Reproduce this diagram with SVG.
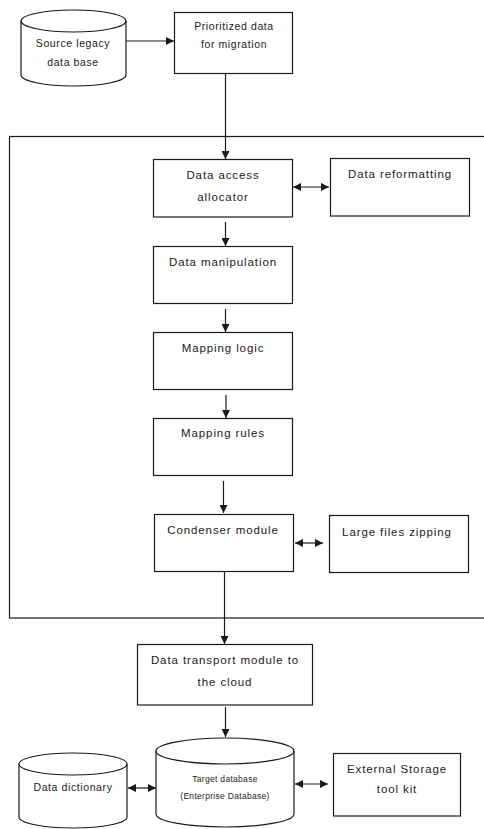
<svg xmlns="http://www.w3.org/2000/svg" width="484" height="829" viewBox="0 0 484 829">
  <style>
    .box { fill: #fff; stroke: #1a1a1a; stroke-width: 1.2; }
    .frame { fill: none; stroke: #1a1a1a; stroke-width: 1.2; }
    .edge { fill: none; stroke: #1a1a1a; stroke-width: 1.2; }
    .lbl { font-family: "Liberation Sans", Arial, sans-serif; font-size: 11.5px; letter-spacing: 0.9px; fill: #1a1a1a; text-anchor: middle; }
    .sm { font-size: 10.5px; letter-spacing: 0.6px; }
    .xs { font-size: 8.5px; letter-spacing: 0.3px; }
  </style>
  <defs>
    <marker id="arrow" viewBox="0 0 10 10" refX="10" refY="5" markerWidth="8" markerHeight="8" orient="auto-start-reverse" markerUnits="userSpaceOnUse">
      <path d="M0,0 L10,5 L0,10 Z" fill="#1a1a1a"/>
    </marker>
  </defs>

  <!-- enclosing processing frame; right side runs off the page -->
  <rect class="frame" x="9.5" y="136.5" width="480" height="481.5"/>

  <g id="source-db">
    <path class="box" d="M21,21 A52.5,11 0 0,1 126,21 L126,75 A52.5,11 0 0,1 21,75 Z"/>
    <path class="edge" d="M21,21 A52.5,11 0 0,0 126,21"/>
    <text class="lbl sm" x="73" y="47">Source legacy</text>
    <text class="lbl sm" x="73" y="66">data base</text>
  </g>

  <g id="prioritized">
    <rect class="box" x="174.5" y="12.5" width="118" height="61"/>
    <text class="lbl sm" x="234" y="30">Prioritized data</text>
    <text class="lbl sm" x="234" y="48">for migration</text>
  </g>

  <g id="access-allocator">
    <rect class="box" x="153.5" y="159.5" width="139" height="57.5"/>
    <text class="lbl" x="223" y="179">Data access</text>
    <text class="lbl" x="223" y="201">allocator</text>
  </g>

  <g id="reformatting">
    <rect class="box" x="330.5" y="158.5" width="139" height="57.5"/>
    <text class="lbl" x="400" y="178">Data reformatting</text>
  </g>

  <g id="manipulation">
    <rect class="box" x="153.5" y="246.5" width="139" height="57"/>
    <text class="lbl" x="223" y="266">Data manipulation</text>
  </g>

  <g id="mapping-logic">
    <rect class="box" x="153.5" y="332.5" width="139" height="57"/>
    <text class="lbl" x="223" y="352">Mapping logic</text>
  </g>

  <g id="mapping-rules">
    <rect class="box" x="153.5" y="418.5" width="139" height="57"/>
    <text class="lbl" x="223" y="437">Mapping rules</text>
  </g>

  <g id="condenser">
    <rect class="box" x="154.5" y="514.5" width="139" height="57"/>
    <text class="lbl" x="223" y="534">Condenser module</text>
  </g>

  <g id="zipping">
    <rect class="box" x="329.5" y="515.5" width="139" height="57"/>
    <text class="lbl" x="397" y="536">Large files zipping</text>
  </g>

  <g id="transport">
    <rect class="box" x="137.5" y="644.5" width="175" height="60.5"/>
    <text class="lbl" x="225" y="664">Data transport module to</text>
    <text class="lbl" x="225" y="686">the cloud</text>
  </g>

  <g id="dictionary">
    <path class="box" d="M19,764 A54,11 0 0,1 127,764 L127,817 A54,11 0 0,1 19,817 Z"/>
    <path class="edge" d="M19,764 A54,11 0 0,0 127,764"/>
    <text class="lbl sm" x="73" y="791">Data dictionary</text>
  </g>

  <g id="target-db">
    <path class="box" d="M156,751 A69,13 0 0,1 294,751 L294,814 A69,13 0 0,1 156,814 Z"/>
    <path class="edge" d="M156,751 A69,13 0 0,0 294,751"/>
    <text class="lbl xs" x="225" y="782">Target database</text>
    <text class="lbl xs" x="225" y="799">(Enterprise Database)</text>
  </g>

  <g id="external-storage">
    <rect class="box" x="333.5" y="753.5" width="127" height="62.5"/>
    <text class="lbl" x="397" y="773">External Storage</text>
    <text class="lbl" x="397" y="793">tool kit</text>
  </g>

  <g id="connectors">
    <line class="edge" x1="126" y1="41" x2="174" y2="41" marker-end="url(#arrow)"/>
    <line class="edge" x1="225.5" y1="73" x2="225.5" y2="159" marker-end="url(#arrow)"/>
    <line class="edge" x1="293" y1="187" x2="329" y2="187" marker-start="url(#arrow)" marker-end="url(#arrow)"/>
    <line class="edge" x1="225.5" y1="222" x2="225.5" y2="246" marker-end="url(#arrow)"/>
    <line class="edge" x1="225.5" y1="309" x2="225.5" y2="332" marker-end="url(#arrow)"/>
    <line class="edge" x1="226" y1="395" x2="226" y2="418" marker-end="url(#arrow)"/>
    <line class="edge" x1="223.5" y1="481" x2="223.5" y2="513" marker-end="url(#arrow)"/>
    <line class="edge" x1="295" y1="543" x2="323" y2="543" marker-start="url(#arrow)" marker-end="url(#arrow)"/>
    <line class="edge" x1="224.5" y1="572" x2="224.5" y2="644" marker-end="url(#arrow)"/>
    <line class="edge" x1="225.5" y1="707" x2="225.5" y2="737" marker-end="url(#arrow)"/>
    <line class="edge" x1="128" y1="788" x2="156" y2="788" marker-start="url(#arrow)" marker-end="url(#arrow)"/>
    <line class="edge" x1="295" y1="784" x2="328" y2="784" marker-start="url(#arrow)" marker-end="url(#arrow)"/>
  </g>
</svg>
